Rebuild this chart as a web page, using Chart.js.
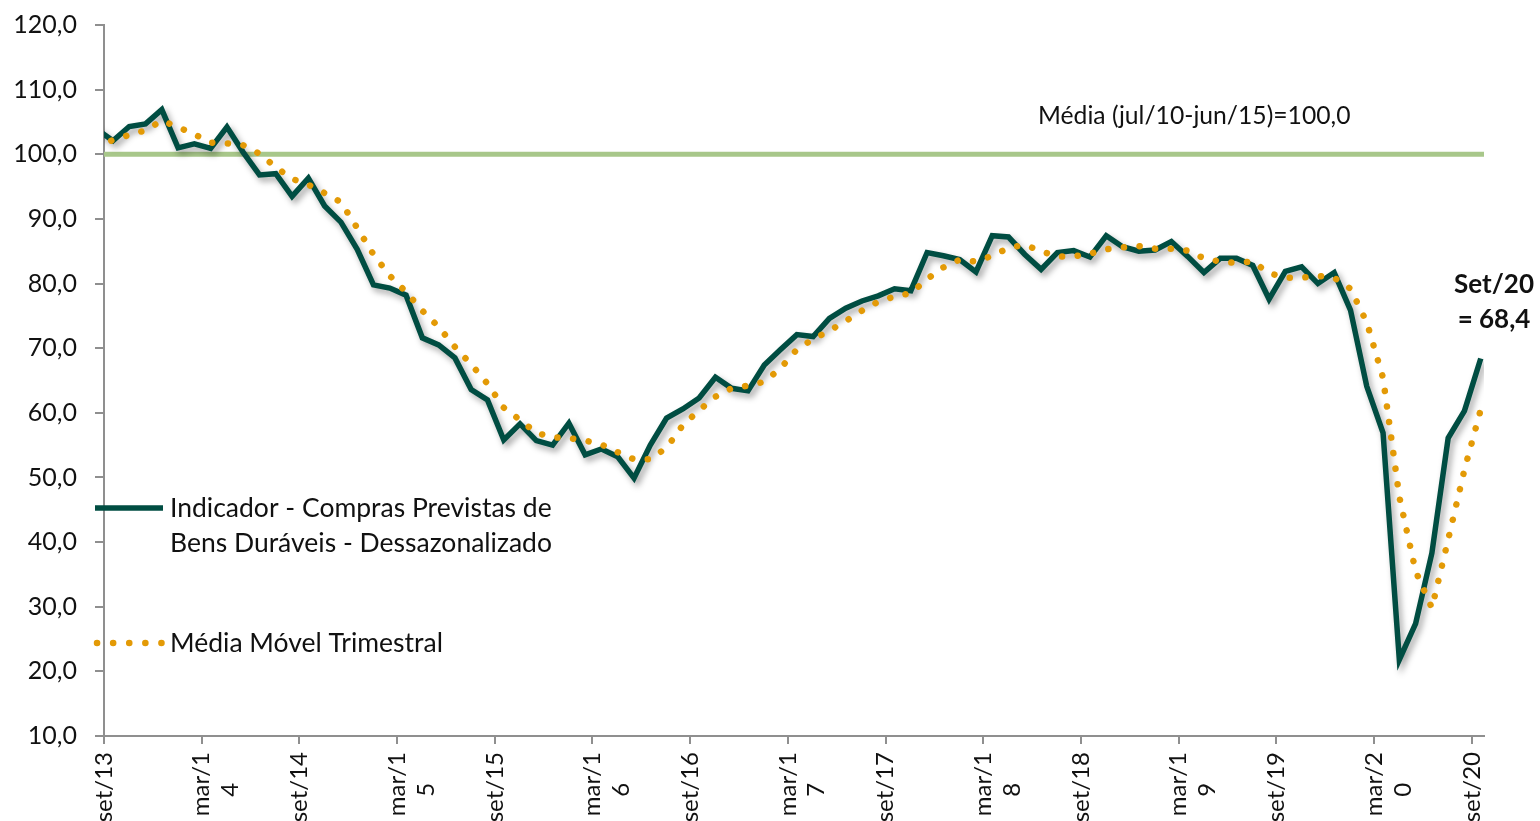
<!DOCTYPE html>
<html>
<head>
<meta charset="utf-8">
<script src="https://cdn.jsdelivr.net/npm/chart.js@4.4.0/dist/chart.umd.min.js"></script>
<style>
  html, body { margin: 0; padding: 0; background: #fff; }
  #wrap { width: 1540px; height: 821px; }
</style>
</head>
<body>
<div id="wrap"><canvas id="chart" width="1540" height="821"></canvas></div>
<script>
// monthly values, ago/13 .. set/20 (first value sits left of the axis and is clipped)
const indicador = [
  103.9,
  102.1, 104.3, 104.7, 106.9, 101.0, 101.6, 100.9, 104.2, 100.3, 96.8,
  97.0, 93.5, 96.3, 92.0, 89.5, 85.3, 79.8, 79.3, 78.2, 71.6,
  70.5, 68.5, 63.6, 62.0, 55.8, 58.3, 55.7, 55.0, 58.4, 53.5,
  54.4, 53.2, 49.9, 55.0, 59.2, 60.6, 62.3, 65.5, 63.8, 63.4,
  67.4, 69.8, 72.1, 71.8, 74.6, 76.2, 77.3, 78.1, 79.2, 78.9,
  84.8, 84.3, 83.7, 81.8, 87.4, 87.2, 84.5, 82.2, 84.8, 85.1,
  84.1, 87.4, 85.7, 85.0, 85.2, 86.5, 84.2, 81.7, 83.9, 83.9,
  82.8, 77.6, 81.9, 82.6, 80.0, 81.7, 75.9, 64.1, 56.9, 21.8,
  27.4, 38.3, 56.1, 60.3, 68.4
];

const mediaMovel = [
  101.2,
  102.2, 103.0, 103.7, 105.2, 104.2, 103.1, 101.8, 101.7, 101.4, 100.1,
  98.0, 96.2, 95.3, 94.0, 92.6, 88.6, 84.5, 81.2, 78.7, 75.8,
  73.3, 70.2, 67.5, 64.5, 60.8, 58.9, 56.9, 56.2, 56.1, 55.7,
  55.1, 53.9, 52.8, 52.8, 54.6, 58.1, 60.4, 62.5, 63.8, 64.2,
  64.8, 66.9, 69.8, 71.4, 72.7, 74.2, 75.8, 77.2, 78.0, 78.5,
  80.7, 82.5, 83.7, 83.4, 84.3, 85.5, 86.0, 85.0, 84.2, 84.2,
  84.6, 85.3, 85.6, 85.8, 85.4, 85.4, 85.1, 83.9, 83.4, 83.2,
  83.4, 81.6, 80.9, 80.9, 81.2, 80.9, 79.2, 74.0, 65.4, 47.0,
  35.5, 29.8, 40.4, 51.2, 60.5
];

const mediaHistorica = 100;

// second line of the wrapped labels is padded so it sits mid-label, as in the original
const tickLabels = [
  'set/13', ['mar/1', '4     '], 'set/14', ['mar/1', '5     '], 'set/15', ['mar/1', '6     '],
  'set/16', ['mar/1', '7     '], 'set/17', ['mar/1', '8     '], 'set/18', ['mar/1', '9     '],
  'set/19', ['mar/2', '0     '], 'set/20'
];

const yTicks = [10, 20, 30, 40, 50, 60, 70, 80, 90, 100, 110, 120];

const darkGreen = '#004d42';
const orange = '#e39a06';
const lightGreen = '#a8c78a';
const axisGray = '#8f8f8f';
const font = 'Lato, "Open Sans", sans-serif';

const tickShift = -0.55;
const xMin = -0.55;
const xMax = 84.2;

const toPoints = arr => arr.map((v, i) => ({ x: i - 1, y: v }));

const shadowPlugin = {
  id: 'shadow',
  beforeDatasetDraw(chart, args) {
    if (args.index === 1) {
      const c = chart.ctx;
      c.save();
      c.shadowColor = 'rgba(0,0,0,0.35)';
      c.shadowBlur = 6;
      c.shadowOffsetX = 3;
      c.shadowOffsetY = 4;
    }
  },
  afterDatasetDraw(chart, args) {
    if (args.index === 1) chart.ctx.restore();
  }
};

const textPlugin = {
  id: 'texts',
  afterDraw(chart) {
    const ctx = chart.ctx;
    ctx.save();
    ctx.fillStyle = '#111';
    ctx.textBaseline = 'middle';

    // legend
    ctx.strokeStyle = darkGreen;
    ctx.lineWidth = 5.5;
    ctx.beginPath();
    ctx.moveTo(95, 508);
    ctx.lineTo(163, 508);
    ctx.stroke();

    ctx.strokeStyle = orange;
    ctx.lineWidth = 6.5;
    ctx.lineCap = 'round';
    ctx.setLineDash([0.1, 16]);
    ctx.beginPath();
    ctx.moveTo(97, 643);
    ctx.lineTo(163, 643);
    ctx.stroke();
    ctx.setLineDash([]);

    ctx.font = '26.5px ' + font;
    ctx.textAlign = 'left';
    ctx.fillText('Indicador - Compras Previstas de', 170, 508);
    ctx.fillText('Bens Duráveis - Dessazonalizado', 170, 543);
    ctx.fillText('Média Móvel Trimestral', 170, 643);

    ctx.font = '24.7px ' + font;
    ctx.fillText('Média (jul/10-jun/15)=100,0', 1038, 116);

    ctx.font = 'bold 26px ' + font;
    ctx.textAlign = 'center';
    ctx.fillText('Set/20', 1494, 285);
    ctx.fillText('= 68,4', 1494, 320);
    ctx.restore();
  }
};

new Chart(document.getElementById('chart'), {
  type: 'line',
  data: {
    datasets: [
      {
        label: 'Média Móvel Trimestral',
        data: toPoints(mediaMovel),
        borderColor: orange,
        borderWidth: 6.5,
        borderDash: [0.1, 15.6],
        borderCapStyle: 'round',
        pointRadius: 0,
        tension: 0,
        order: 1
      },
      {
        label: 'Indicador - Compras Previstas de Bens Duráveis - Dessazonalizado',
        data: toPoints(indicador),
        borderColor: darkGreen,
        borderWidth: 5.5,
        borderJoinStyle: 'miter',
        pointRadius: 0,
        tension: 0,
        order: 2
      },
      {
        label: 'Média (jul/10-jun/15)=100,0',
        data: [{ x: xMin, y: mediaHistorica }, { x: xMax, y: mediaHistorica }],
        borderColor: lightGreen,
        borderWidth: 5,
        pointRadius: 0,
        order: 3
      }
    ]
  },
  options: {
    responsive: false,
    animation: false,
    devicePixelRatio: 1,
    layout: { padding: { top: 25, right: 56, left: 0, bottom: 0 } },
    plugins: {
      legend: { display: false },
      tooltip: { enabled: false }
    },
    scales: {
      x: {
        type: 'linear',
        min: xMin,
        max: xMax,
        afterBuildTicks: scale => {
          scale.ticks = tickLabels.map((_, k) => ({ value: k * 6 + tickShift }));
        },
        afterFit: scale => {
          scale.height = 85;
          scale.paddingTop = 0;
          scale.paddingBottom = 0;
        },
        grid: { drawOnChartArea: false, drawTicks: true, tickLength: 8, color: axisGray, lineWidth: 2 },
        border: { display: true, color: axisGray, width: 2 },
        ticks: {
          autoSkip: false,
          minRotation: 90,
          maxRotation: 90,
          padding: 8,
          color: '#111',
          font: { family: font, size: 24 },
          callback: (v, i) => tickLabels[i]
        }
      },
      y: {
        min: 10,
        max: 120,
        afterBuildTicks: scale => {
          scale.ticks = yTicks.map(v => ({ value: v }));
        },
        afterFit: scale => {
          scale.width = 104;
          scale.paddingTop = 0;
          scale.paddingBottom = 0;
        },
        grid: { drawOnChartArea: false, drawTicks: true, tickLength: 9, color: axisGray, lineWidth: 2 },
        border: { display: true, color: axisGray, width: 2 },
        ticks: {
          padding: 18,
          color: '#111',
          font: { family: font, size: 25 },
          callback: v => v.toFixed(1).replace('.', ',')
        }
      }
    }
  },
  plugins: [shadowPlugin, textPlugin]
});
</script>
</body>
</html>
